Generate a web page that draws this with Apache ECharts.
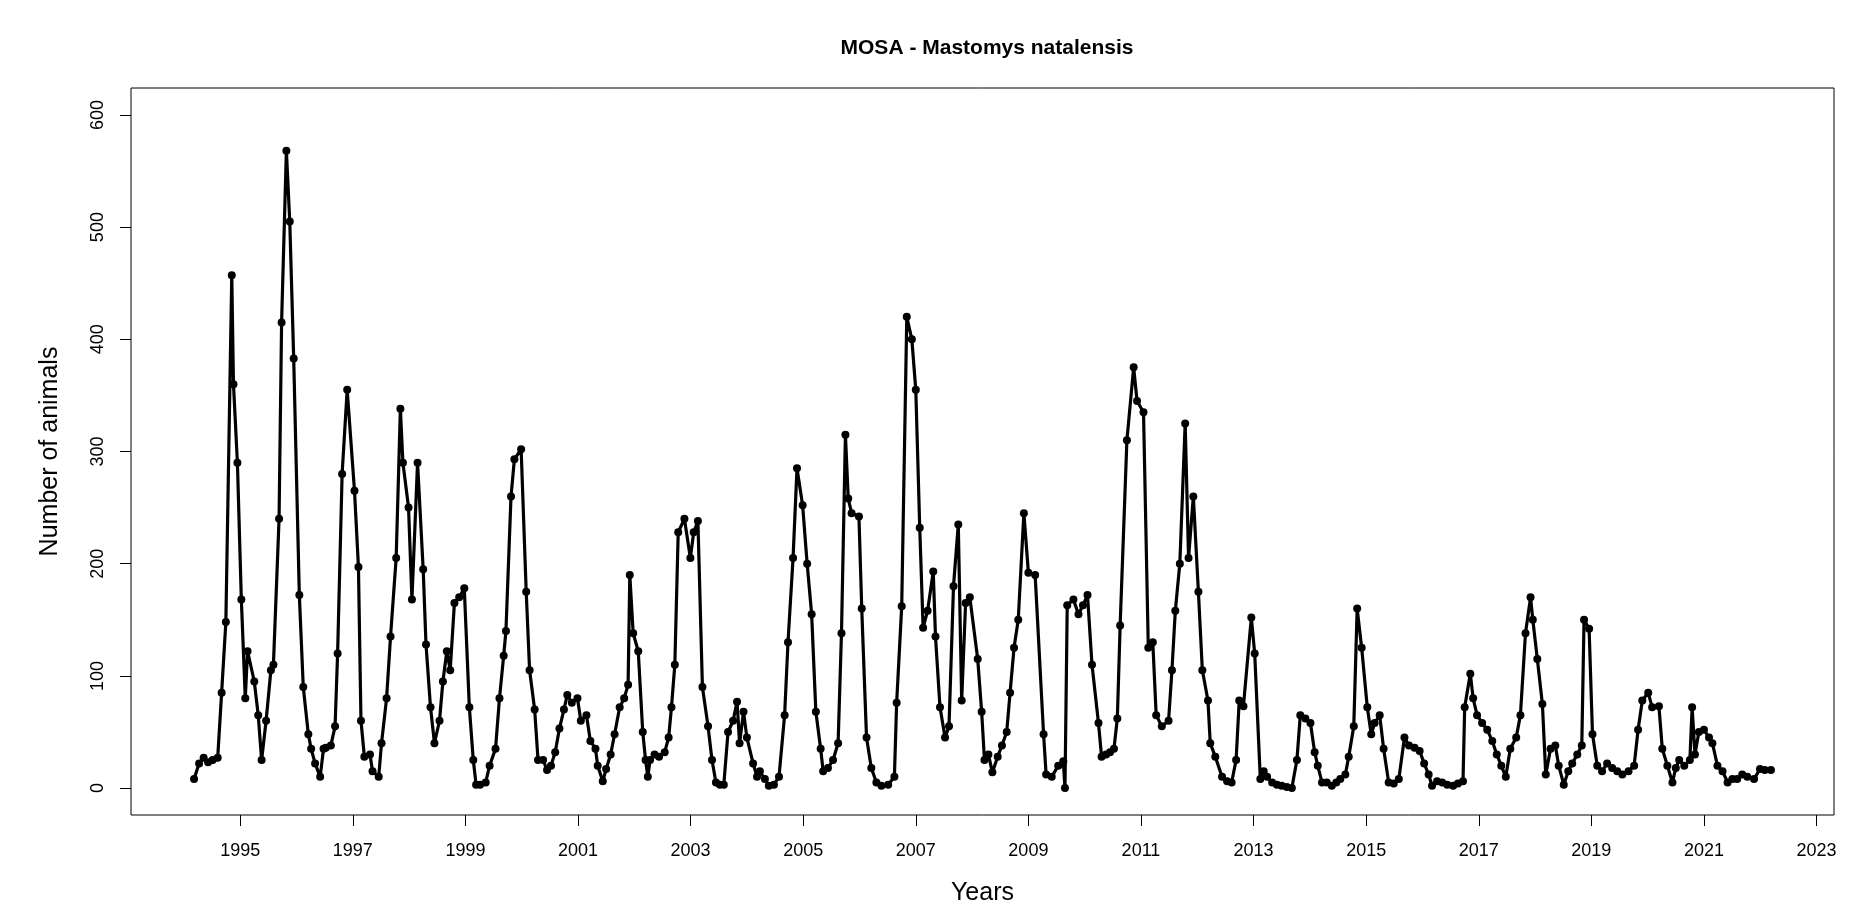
<!DOCTYPE html>
<html>
<head>
<meta charset="utf-8">
<script src="https://cdn.jsdelivr.net/npm/echarts@6/dist/echarts.min.js"></script>
<style>
html,body{margin:0;padding:0;background:#fff;}
#chart{width:1871px;height:911px;}
</style>
</head>
<body>
<div id="chart"></div>
<script>
// Sampling dates (decimal years) and number of animals
const dates = [
1994.18,1994.27,1994.35,1994.43,1994.51,1994.60,1994.67,1994.745,1994.85,1994.88,1994.95,
1995.02,1995.09,1995.13,1995.25,1995.32,1995.38,1995.46,1995.545,1995.59,1995.69,1995.735,1995.82,1995.88,1995.95,
1996.05,1996.12,1996.21,1996.26,1996.33,1996.42,1996.48,1996.52,1996.61,1996.685,1996.73,1996.81,1996.90,
1997.03,1997.10,1997.145,1997.205,1997.305,1997.35,1997.46,1997.51,1997.60,1997.67,1997.77,1997.845,1997.89,1997.99,
1998.05,1998.15,1998.25,1998.30,1998.38,1998.45,1998.54,1998.60,1998.67,1998.73,1998.805,1998.89,1998.98,
1999.07,1999.14,1999.19,1999.26,1999.36,1999.43,1999.535,1999.605,1999.68,1999.72,1999.81,1999.87,1999.99,
2000.08,2000.14,2000.23,2000.29,2000.38,2000.45,2000.52,2000.595,2000.67,2000.75,2000.81,2000.89,2000.99,
2001.05,2001.15,2001.22,2001.31,2001.35,2001.44,2001.50,2001.58,2001.65,2001.74,2001.82,2001.89,2001.92,2001.98,
2002.07,2002.15,2002.20,2002.24,2002.28,2002.36,2002.44,2002.54,2002.61,2002.66,2002.72,2002.78,2002.89,2002.996,
2003.055,2003.13,2003.21,2003.31,2003.38,2003.45,2003.52,2003.59,2003.665,2003.755,2003.825,2003.87,2003.94,
2004.00,2004.11,2004.18,2004.23,2004.32,2004.39,2004.48,2004.57,2004.67,2004.73,2004.82,2004.89,2004.99,
2005.07,2005.15,2005.225,2005.31,2005.355,2005.44,2005.53,2005.62,2005.68,2005.75,2005.80,2005.86,2005.99,
2006.04,2006.125,2006.21,2006.30,2006.39,2006.51,2006.62,2006.66,2006.75,2006.84,2006.93,
2007.00,2007.07,2007.13,2007.21,2007.31,2007.35,2007.43,2007.52,2007.59,2007.67,2007.755,2007.815,2007.885,2007.96,
2008.10,2008.17,2008.22,2008.29,2008.36,2008.455,2008.53,2008.615,2008.675,2008.745,2008.82,2008.92,
2009.00,2009.12,2009.27,2009.315,2009.415,2009.53,2009.62,2009.65,2009.69,2009.80,2009.89,2009.97,
2010.05,2010.13,2010.245,2010.30,2010.38,2010.45,2010.52,2010.58,2010.63,2010.75,2010.87,2010.93,
2011.045,2011.13,2011.21,2011.27,2011.37,2011.49,2011.55,2011.61,2011.69,2011.785,2011.845,2011.93,
2012.02,2012.09,2012.19,2012.23,2012.32,2012.44,2012.53,2012.61,2012.69,2012.745,2012.82,2012.96,
2013.02,2013.12,2013.18,2013.24,2013.33,2013.415,2013.50,2013.59,2013.68,2013.77,2013.83,2013.92,
2014.01,2014.085,2014.14,2014.215,2014.30,2014.39,2014.47,2014.54,2014.63,2014.69,2014.78,2014.84,2014.92,
2015.02,2015.09,2015.15,2015.24,2015.31,2015.40,2015.49,2015.58,2015.68,2015.76,2015.86,2015.95,
2016.03,2016.11,2016.17,2016.26,2016.35,2016.44,2016.545,2016.63,2016.72,2016.75,2016.85,2016.90,2016.97,
2017.06,2017.15,2017.24,2017.32,2017.40,2017.48,2017.56,2017.665,2017.74,2017.83,2017.92,2017.96,
2018.04,2018.13,2018.19,2018.275,2018.36,2018.42,2018.51,2018.59,2018.66,2018.75,2018.83,2018.87,2018.96,
2019.02,2019.105,2019.19,2019.28,2019.37,2019.46,2019.55,2019.66,2019.76,2019.83,2019.905,
2020.01,2020.08,2020.20,2020.26,2020.35,2020.44,2020.50,2020.56,2020.65,2020.75,2020.79,2020.84,2020.91,
2021.00,2021.09,2021.15,2021.24,2021.33,2021.42,2021.505,2021.59,2021.68,2021.77,2021.89,2021.995,
2022.08,2022.19
];
const counts = [
8,22,27,23,25,27,85,148,457,360,290,
168,80,122,95,65,25,60,105,110,240,415,568,505,383,
172,90,48,35,22,10,35,36,38,55,120,280,355,
265,197,60,28,30,15,10,40,80,135,205,338,290,250,
168,290,195,128,72,40,60,95,122,105,165,170,178,
72,25,3,3,5,20,35,80,118,140,260,293,302,
175,105,70,25,25,16,20,32,53,70,83,76,80,
60,65,42,35,20,6,17,30,48,72,80,92,190,138,
122,50,25,10,25,30,28,32,45,72,110,228,240,205,
228,238,90,55,25,5,3,3,50,60,77,40,68,
45,22,10,15,8,2,3,10,65,130,205,285,252,
200,155,68,35,15,18,25,40,138,315,258,245,242,
160,45,18,5,2,3,10,76,162,420,400,
355,232,143,158,193,135,72,45,55,180,235,78,165,170,
115,68,25,30,14,28,38,50,85,125,150,245,
192,190,48,12,10,20,24,0,163,168,155,163,
172,110,58,28,30,32,35,62,145,310,375,345,
335,125,130,65,55,60,105,158,200,325,205,260,
175,105,78,40,28,10,6,5,25,78,73,152,
120,8,15,10,5,3,2,1,0,25,65,62,
58,32,20,5,5,2,5,8,12,28,55,160,125,
72,48,58,65,35,5,4,8,45,38,36,33,
22,12,2,6,5,3,2,4,6,72,102,80,65,
58,52,42,30,20,10,35,45,65,138,170,150,
115,75,12,35,38,20,3,15,22,30,38,150,142,
48,20,15,22,18,15,12,15,20,52,78,
85,72,73,35,20,5,18,25,20,25,72,30,50,
52,45,40,20,15,5,8,8,12,10,8,17,
16,16
];
const xTicks = [1995,1997,1999,2001,2003,2005,2007,2009,2011,2013,2015,2017,2019,2021,2023];
const yTicks = [0,100,200,300,400,500,600];

const seriesData = dates.map((d, i) => [d, counts[i]]);
const FONT = '"Liberation Sans", Arial, sans-serif';

const chart = echarts.init(document.getElementById('chart'), null, {renderer: 'canvas'});
chart.setOption({
  animation: false,
  backgroundColor: '#fff',
  title: {
    text: 'MOSA - Mastomys natalensis',
    left: 982,
    top: 33,
    textAlign: 'center',
    textStyle: {fontFamily: FONT, fontWeight: 'bold', fontSize: 21, color: '#000'}
  },
  grid: {
    left: 131, right: 37, top: 88, bottom: 91,
    show: true, borderColor: '#000', borderWidth: 1, backgroundColor: 'transparent'
  },
  xAxis: {
    type: 'value',
    min: 1993.06,
    max: 2023.31,
    name: 'Years',
    nameLocation: 'middle',
    nameGap: 66,
    nameTextStyle: {fontFamily: FONT, fontSize: 25, color: '#000'},
    axisLine: {show: false, onZero: false},
    splitLine: {show: false},
    axisTick: {show: true, length: 11, inside: false, customValues: xTicks, lineStyle: {color: '#000', width: 1}},
    axisLabel: {customValues: xTicks, fontFamily: FONT, fontSize: 18, color: '#000', margin: 27,
      formatter: v => String(Math.round(v))}
  },
  yAxis: {
    type: 'value',
    min: -24,
    max: 624,
    name: 'Number of animals',
    nameLocation: 'middle',
    nameGap: 68,
    nameTextStyle: {fontFamily: FONT, fontSize: 25, color: '#000'},
    axisLine: {show: false, onZero: false},
    splitLine: {show: false},
    axisTick: {show: true, length: 11, inside: false, customValues: yTicks, lineStyle: {color: '#000', width: 1}},
    axisLabel: {customValues: yTicks, rotate: 90, fontFamily: FONT, fontSize: 18, color: '#000', margin: 24}
  },
  series: [{
    type: 'line',
    data: seriesData,
    showSymbol: true,
    symbol: 'circle',
    symbolSize: 8,
    itemStyle: {color: '#000'},
    lineStyle: {color: '#000', width: 3.2},
    clip: true
  }]
});
</script>
</body>
</html>
